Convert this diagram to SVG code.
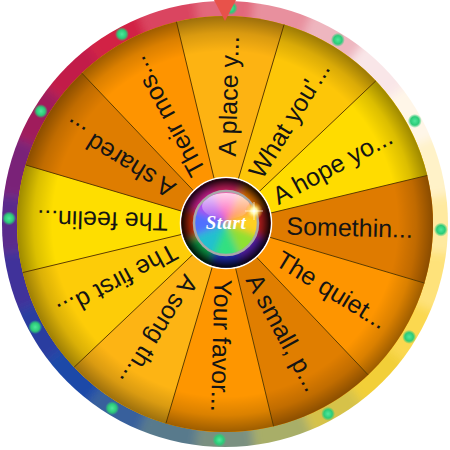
<svg xmlns="http://www.w3.org/2000/svg" xmlns:xlink="http://www.w3.org/1999/xlink" width="450" height="450" viewBox="0 0 450 450">
<style>
.label{font-family:"Liberation Sans",Arial,sans-serif;font-size:25px;fill:#141414;text-anchor:end;dominant-baseline:central}
.div line{stroke:#5a3a00;stroke-width:0.9}
.dot{fill:url(#dotG)}
</style>
<defs>
<path id="wedge" d="M225,224 L171.17,23.09 A208,208 0 0,1 278.83,23.09 Z"/>
<path id="rw" d="M225,224 L193.67,-13.95 L256.33,-13.95 Z"/>
<path id="hw" d="M0,0 L-22.96,-55.43 L22.96,-55.43 Z"/>
<filter id="blur5" x="-20%" y="-20%" width="140%" height="140%"><feGaussianBlur stdDeviation="5"/></filter>
<filter id="blur3" x="-30%" y="-30%" width="160%" height="160%"><feGaussianBlur stdDeviation="3.5"/></filter>
<clipPath id="rimClip"><circle cx="225" cy="224" r="223"/></clipPath>
<clipPath id="hubClip"><circle cx="226" cy="223" r="44.5"/></clipPath>
<clipPath id="btnClip"><circle cx="226" cy="223" r="31.5"/></clipPath>
<radialGradient id="shade" cx="225" cy="224" r="208" gradientUnits="userSpaceOnUse">
<stop offset="0" stop-color="#000" stop-opacity="0"/>
<stop offset="0.83" stop-color="#000" stop-opacity="0"/>
<stop offset="0.92" stop-color="#000" stop-opacity="0.14"/>
<stop offset="1" stop-color="#000" stop-opacity="0.38"/>
</radialGradient>
<radialGradient id="hubShade" cx="226" cy="223" r="45" gradientUnits="userSpaceOnUse">
<stop offset="0.68" stop-color="#000" stop-opacity="0.05"/>
<stop offset="0.82" stop-color="#000" stop-opacity="0.4"/>
<stop offset="1" stop-color="#000" stop-opacity="0.95"/>
</radialGradient>
<linearGradient id="gloss" x1="0" y1="0" x2="0" y2="1">
<stop offset="0" stop-color="#fff" stop-opacity="0.75"/>
<stop offset="1" stop-color="#fff" stop-opacity="0.05"/>
</linearGradient>
<radialGradient id="dotG">
<stop offset="0" stop-color="#4fe89c"/>
<stop offset="0.6" stop-color="#2ccb78"/>
<stop offset="1" stop-color="#2ccb78" stop-opacity="0"/>
</radialGradient>
<radialGradient id="spark">
<stop offset="0" stop-color="#fff"/>
<stop offset="0.35" stop-color="#fff6a0"/>
<stop offset="1" stop-color="#ffb000" stop-opacity="0"/>
</radialGradient>
</defs>

<g id="rim" clip-path="url(#rimClip)">
<g filter="url(#blur5)">
<use href="#rw" fill="#E2687B"/>
<use href="#rw" fill="#E8909E" transform="rotate(15 225 224)"/>
<use href="#rw" fill="#EEB6BF" transform="rotate(30 225 224)"/>
<use href="#rw" fill="#F9E6E8" transform="rotate(45 225 224)"/>
<use href="#rw" fill="#FFF6E8" transform="rotate(60 225 224)"/>
<use href="#rw" fill="#FFF2C8" transform="rotate(75 225 224)"/>
<use href="#rw" fill="#FFEAA0" transform="rotate(90 225 224)"/>
<use href="#rw" fill="#FEE27A" transform="rotate(105 225 224)"/>
<use href="#rw" fill="#FBD850" transform="rotate(120 225 224)"/>
<use href="#rw" fill="#F2CF38" transform="rotate(135 225 224)"/>
<use href="#rw" fill="#D6C24A" transform="rotate(150 225 224)"/>
<use href="#rw" fill="#A8AE68" transform="rotate(165 225 224)"/>
<use href="#rw" fill="#7A9080" transform="rotate(180 225 224)"/>
<use href="#rw" fill="#587A8C" transform="rotate(195 225 224)"/>
<use href="#rw" fill="#38609C" transform="rotate(210 225 224)"/>
<use href="#rw" fill="#1E48A8" transform="rotate(225 225 224)"/>
<use href="#rw" fill="#2A3CA0" transform="rotate(240 225 224)"/>
<use href="#rw" fill="#40309A" transform="rotate(255 225 224)"/>
<use href="#rw" fill="#5A2A8C" transform="rotate(270 225 224)"/>
<use href="#rw" fill="#7A2278" transform="rotate(285 225 224)"/>
<use href="#rw" fill="#A01C5C" transform="rotate(300 225 224)"/>
<use href="#rw" fill="#C21A48" transform="rotate(315 225 224)"/>
<use href="#rw" fill="#D22244" transform="rotate(330 225 224)"/>
<use href="#rw" fill="#DA4560" transform="rotate(345 225 224)"/>
</g>
</g>

<g id="rim-dots">
<circle class="dot" cx="225" cy="8" r="7" transform="rotate(1.5 225 224)"/>
<circle class="dot" cx="225" cy="8" r="7" transform="rotate(31.5 225 224)"/>
<circle class="dot" cx="225" cy="8" r="7" transform="rotate(61.5 225 224)"/>
<circle class="dot" cx="225" cy="8" r="7" transform="rotate(91.5 225 224)"/>
<circle class="dot" cx="225" cy="8" r="7" transform="rotate(121.5 225 224)"/>
<circle class="dot" cx="225" cy="8" r="7" transform="rotate(151.5 225 224)"/>
<circle class="dot" cx="225" cy="8" r="7" transform="rotate(181.5 225 224)"/>
<circle class="dot" cx="225" cy="8" r="7" transform="rotate(211.5 225 224)"/>
<circle class="dot" cx="225" cy="8" r="7" transform="rotate(241.5 225 224)"/>
<circle class="dot" cx="225" cy="8" r="7" transform="rotate(271.5 225 224)"/>
<circle class="dot" cx="225" cy="8" r="7" transform="rotate(301.5 225 224)"/>
<circle class="dot" cx="225" cy="8" r="7" transform="rotate(331.5 225 224)"/>
</g>

<circle cx="225" cy="224" r="208" fill="#EFA000"/>

<g id="seg-a-place" transform="rotate(1.5 225 224)"><use href="#wedge" fill="#FDB312"/><text class="label" x="413" y="224" transform="rotate(-90 225 224)">A place y...</text></g>
<g id="seg-what-you" transform="rotate(31.5 225 224)"><use href="#wedge" fill="#FDC608"/><text class="label" x="413" y="224" transform="rotate(-90 225 224)">What you'...</text></g>
<g id="seg-a-hope" transform="rotate(61.5 225 224)"><use href="#wedge" fill="#FFDC00"/><text class="label" x="413" y="224" transform="rotate(-90 225 224)">A hope yo...</text></g>
<g id="seg-somethin" transform="rotate(91.5 225 224)"><use href="#wedge" fill="#DF7B00"/><text class="label" x="413" y="224" transform="rotate(-90 225 224)">Somethin...</text></g>
<g id="seg-the-quiet" transform="rotate(121.5 225 224)"><use href="#wedge" fill="#FE9500"/><text class="label" x="413" y="224" transform="rotate(-90 225 224)">The quiet...</text></g>
<g id="seg-a-small" transform="rotate(151.5 225 224)"><use href="#wedge" fill="#E07E00"/><text class="label" x="413" y="224" transform="rotate(-90 225 224)">A small, p...</text></g>
<g id="seg-your-favor" transform="rotate(181.5 225 224)"><use href="#wedge" fill="#FE9600"/><text class="label" x="413" y="224" transform="rotate(-90 225 224)">Your favor...</text></g>
<g id="seg-a-song" transform="rotate(211.5 225 224)"><use href="#wedge" fill="#FDB414"/><text class="label" x="413" y="224" transform="rotate(-90 225 224)">A song th...</text></g>
<g id="seg-the-first" transform="rotate(241.5 225 224)"><use href="#wedge" fill="#FDCC08"/><text class="label" x="413" y="224" transform="rotate(-90 225 224)">The first d...</text></g>
<g id="seg-the-feelin" transform="rotate(271.5 225 224)"><use href="#wedge" fill="#FEDE00"/><text class="label" x="413" y="224" transform="rotate(-90 225 224)">The feelin...</text></g>
<g id="seg-a-shared" transform="rotate(301.5 225 224)"><use href="#wedge" fill="#DF7D00"/><text class="label" x="413" y="224" transform="rotate(-90 225 224)">A shared ...</text></g>
<g id="seg-their-mos" transform="rotate(331.5 225 224)"><use href="#wedge" fill="#FE9400"/><text class="label" x="413" y="224" transform="rotate(-90 225 224)">Their mos...</text></g>

<circle cx="225" cy="224" r="208" fill="url(#shade)"/>

<g id="connectors" class="div">
<line x1="225" y1="180" x2="225" y2="16" transform="rotate(16.5 225 224)"/>
<line x1="225" y1="180" x2="225" y2="16" transform="rotate(46.5 225 224)"/>
<line x1="225" y1="180" x2="225" y2="16" transform="rotate(76.5 225 224)"/>
<line x1="225" y1="180" x2="225" y2="16" transform="rotate(106.5 225 224)"/>
<line x1="225" y1="180" x2="225" y2="16" transform="rotate(136.5 225 224)"/>
<line x1="225" y1="180" x2="225" y2="16" transform="rotate(166.5 225 224)"/>
<line x1="225" y1="180" x2="225" y2="16" transform="rotate(196.5 225 224)"/>
<line x1="225" y1="180" x2="225" y2="16" transform="rotate(226.5 225 224)"/>
<line x1="225" y1="180" x2="225" y2="16" transform="rotate(256.5 225 224)"/>
<line x1="225" y1="180" x2="225" y2="16" transform="rotate(286.5 225 224)"/>
<line x1="225" y1="180" x2="225" y2="16" transform="rotate(316.5 225 224)"/>
<line x1="225" y1="180" x2="225" y2="16" transform="rotate(346.5 225 224)"/>
</g>

<g id="pointer">
<path d="M214,0 L236,0 L225,21 Z" fill="#E8524A"/>
</g>

<g id="start-button">
<circle cx="226" cy="223" r="45.5" fill="#000" stroke="#fff" stroke-width="1.5"/>
<g clip-path="url(#hubClip)">
<g filter="url(#blur3)">
<use href="#hw" fill="#E0206A" transform="translate(226 223)"/>
<use href="#hw" fill="#FF8000" transform="translate(226 223) rotate(45)"/>
<use href="#hw" fill="#D02020" transform="translate(226 223) rotate(90)"/>
<use href="#hw" fill="#6020C0" transform="translate(226 223) rotate(135)"/>
<use href="#hw" fill="#2030D0" transform="translate(226 223) rotate(180)"/>
<use href="#hw" fill="#10B050" transform="translate(226 223) rotate(225)"/>
<use href="#hw" fill="#E03010" transform="translate(226 223) rotate(270)"/>
<use href="#hw" fill="#E020A0" transform="translate(226 223) rotate(315)"/>
</g>
<circle cx="226" cy="223" r="45" fill="url(#hubShade)"/>
</g>
<g clip-path="url(#btnClip)">
<g filter="url(#blur3)">
<use href="#hw" fill="#FF50B0" transform="translate(226 223)"/>
<use href="#hw" fill="#FF9050" transform="translate(226 223) rotate(45)"/>
<use href="#hw" fill="#FFD020" transform="translate(226 223) rotate(90)"/>
<use href="#hw" fill="#90E030" transform="translate(226 223) rotate(135)"/>
<use href="#hw" fill="#30E080" transform="translate(226 223) rotate(180)"/>
<use href="#hw" fill="#20C0D0" transform="translate(226 223) rotate(225)"/>
<use href="#hw" fill="#5070FF" transform="translate(226 223) rotate(270)"/>
<use href="#hw" fill="#B050F0" transform="translate(226 223) rotate(315)"/>
</g>
<ellipse cx="226" cy="206" rx="24" ry="13" fill="url(#gloss)"/>
</g>
<circle cx="226" cy="223" r="32" fill="none" stroke="#A8A8A8" stroke-width="2.5"/>
<text x="226" y="229" text-anchor="middle" font-family="'Liberation Serif',serif" font-style="italic" font-weight="bold" font-size="19" fill="#fff" letter-spacing="0.5">Start</text>
<circle cx="254" cy="211" r="9" fill="url(#spark)"/>
<path d="M254,202 L254,220 M245,211 L263,211" stroke="#fff" stroke-width="0.8" opacity="0.8"/>
</g>
</svg>
